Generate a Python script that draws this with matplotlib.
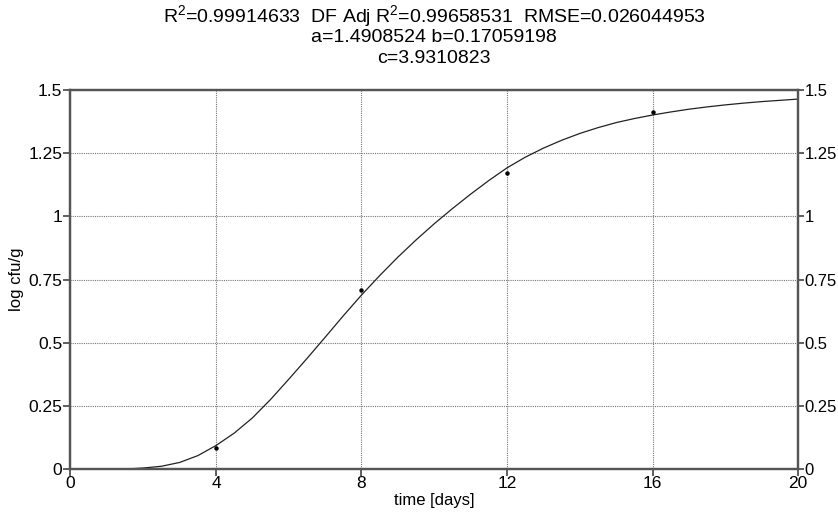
import numpy as np
import matplotlib
matplotlib.use('Agg')
import matplotlib.pyplot as plt

plt.rcParams['font.family'] = ['Liberation Sans', 'DejaVu Sans']
plt.rcParams['mathtext.fontset'] = 'custom'
plt.rcParams['mathtext.rm'] = 'Liberation Sans'
plt.rcParams['mathtext.it'] = 'Liberation Sans'

# fitted curve
curve_t = [1.25, 1.5, 2.0, 2.5, 3.0, 3.5, 4.0, 4.5, 5.0, 5.5, 6.0, 6.5, 7.0, 7.5,
           8.0, 8.5, 9.0, 9.5, 10.0, 10.5, 11.0, 11.5, 12.0, 12.5, 13.0, 13.5,
           14.0, 14.5, 15.0, 15.5, 16.0, 16.5, 17.0, 17.5, 18.0, 18.5, 19.0,
           19.5, 20.0]
curve_y = [0.0, 0.001, 0.005, 0.012, 0.027, 0.054, 0.094, 0.143, 0.203, 0.276,
           0.356, 0.438, 0.522, 0.607, 0.689, 0.766, 0.839, 0.907, 0.971, 1.031,
           1.088, 1.142, 1.192, 1.234, 1.270, 1.301, 1.328, 1.351, 1.371, 1.387,
           1.401, 1.413, 1.424, 1.433, 1.441, 1.448, 1.454, 1.459, 1.464]

# measured points
obs_t = [4, 8, 12, 16]
obs_y = [0.085, 0.708, 1.171, 1.412]

xticks = [0, 4, 8, 12, 16, 20]
yticks = [0, 0.25, 0.5, 0.75, 1, 1.25, 1.5]
ylabels = ['0', '0.25', '0.5', '0.75', '1', '1.25', '1.5']

title_lines = [r'R$^{2}$=0.99914633  DF Adj R$^{2}$=0.99658531  RMSE=0.026044953',
               'a=1.4908524 b=0.17059198',
               'c=3.9310823']

fig = plt.figure(figsize=(8.38, 5.13), dpi=100)
ax = fig.add_axes([0.0841, 0.0852, 0.8682, 0.7394])

ax.plot(curve_t, curve_y, color='#222222', lw=0.9, zorder=3)
ax.plot(obs_t, obs_y, 'o', color='black', ms=2.2, zorder=4)

ax.set_xlim(0, 20)
ax.set_ylim(0, 1.5)
ax.set_xticks(xticks)
ax.set_yticks(yticks)
ax.set_yticklabels(ylabels)
ax.grid(True, color='#777777', ls=(0, (1, 1)), lw=0.8)

ax2 = ax.twinx()
ax2.set_ylim(0, 1.5)
ax2.set_yticks(yticks)
ax2.set_yticklabels(ylabels)

for a in (ax, ax2):
    for s in a.spines.values():
        s.set_color('#555555')
        s.set_linewidth(1.6)
    a.tick_params(labelsize=12.5, length=5, width=1.2, color='#444444', pad=1)
ax.tick_params(axis='x', pad=0)
ax2.tick_params(labelsize=12, length=4, pad=0.5)

ax.set_xlabel('time [days]', fontsize=12, labelpad=1)
ax.set_ylabel('log cfu/g', fontsize=12, labelpad=3)

for i, line in enumerate(title_lines):
    fig.text(0.518, 0.968 - i * 0.0415, line, ha='center', va='center', fontsize=14)

fig.savefig('out.png', dpi=100)
